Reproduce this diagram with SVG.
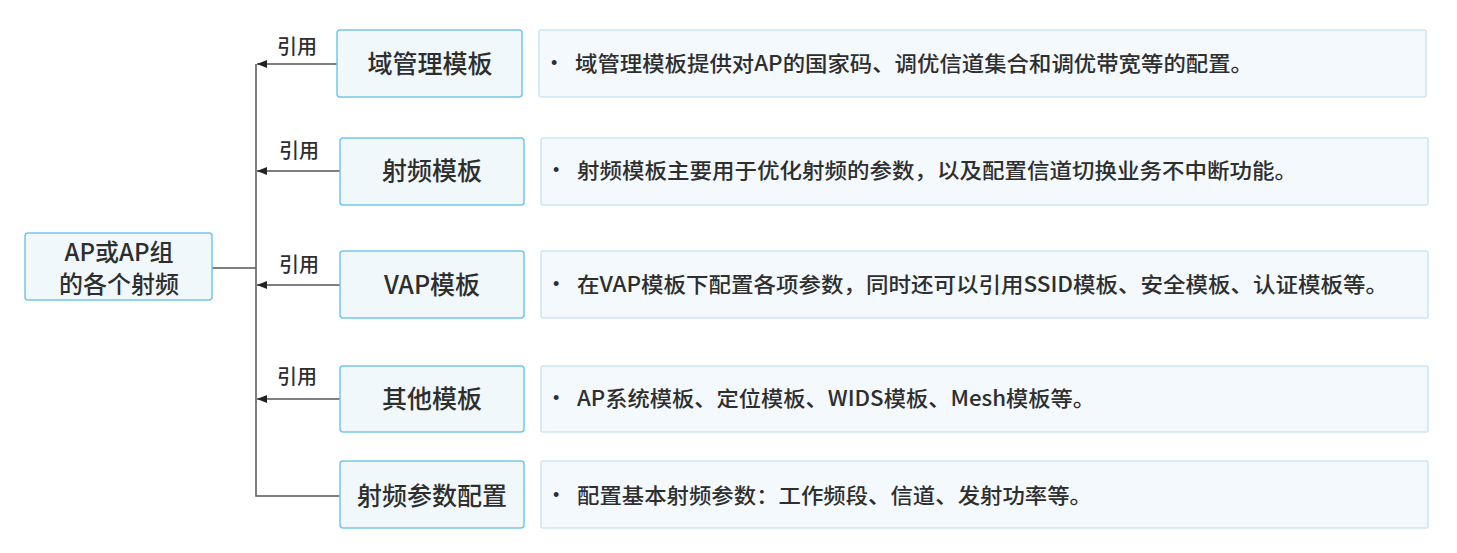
<svg xmlns="http://www.w3.org/2000/svg" width="1457" height="553" viewBox="0 0 1457 553">
<style>
text{font-family:"Noto Sans CJK SC","Noto Sans",sans-serif;fill:#2e2e2e;dominant-baseline:central}
.node{fill:#f1f8fc;stroke:#74c6ea;stroke-width:1.5}
.desc{fill:#f3f9fc;stroke:#cde6f3;stroke-width:1.5}
.nt{font-size:25px;text-anchor:middle;font-weight:500}
.rt{font-size:24px;text-anchor:middle;font-weight:500}
.dt{font-size:21px;font-weight:500}
.bul{font-family:"Liberation Sans",sans-serif;font-size:18px}
.lbl{font-size:20px;text-anchor:middle;font-weight:500}
.ln{fill:none;stroke:#555;stroke-width:1.5}
</style>
<defs>
<marker id="ah" markerWidth="11" markerHeight="10" refX="10" refY="5" orient="auto" markerUnits="userSpaceOnUse">
<path d="M0,1 L10,5 L0,9 Z" fill="#222"/>
</marker>
</defs>
<g id="connectors">
<path class="ln" d="M212,268 H256"/>
<path class="ln" d="M256,64 V496 H340"/>
<path class="ln" d="M337,64 H257" marker-end="url(#ah)"/>
<path class="ln" d="M340,171 H257" marker-end="url(#ah)"/>
<path class="ln" d="M340,285 H257" marker-end="url(#ah)"/>
<path class="ln" d="M340,399 H257" marker-end="url(#ah)"/>
<text class="lbl" x="297" y="45">引用</text>
<text class="lbl" x="299" y="149">引用</text>
<text class="lbl" x="299" y="263">引用</text>
<text class="lbl" x="297" y="375">引用</text>
</g>
<g id="root">
<rect class="node" x="25" y="233" width="187" height="67" rx="3"/>
<text class="rt" x="119" y="250">AP或AP组</text>
<text class="rt" x="119" y="282">的各个射频</text>
</g>
<g id="n1">
<rect class="node" x="337" y="30" width="185" height="67" rx="3"/>
<text class="nt" x="430" y="62">域管理模板</text>
</g>
<g id="n2">
<rect class="node" x="340" y="138" width="184" height="67" rx="3"/>
<text class="nt" x="432" y="169">射频模板</text>
</g>
<g id="n3">
<rect class="node" x="340" y="251" width="184" height="67" rx="3"/>
<text class="nt" x="432" y="283">VAP模板</text>
</g>
<g id="n4">
<rect class="node" x="340" y="366" width="184" height="66" rx="3"/>
<text class="nt" x="432" y="397">其他模板</text>
</g>
<g id="n5">
<rect class="node" x="340" y="461" width="184" height="67" rx="3"/>
<text class="nt" x="432" y="494">射频参数配置</text>
</g>
<g id="d1">
<rect class="desc" x="539" y="30" width="887" height="67" rx="2"/>
<text class="bul" x="551" y="63">•</text>
<text class="dt" x="575" y="62" textLength="678" lengthAdjust="spacingAndGlyphs">域管理模板提供对AP的国家码、调优信道集合和调优带宽等的配置。</text>
</g>
<g id="d2">
<rect class="desc" x="541" y="138" width="887" height="67" rx="2"/>
<text class="bul" x="553" y="170">•</text>
<text class="dt" x="577" y="169" textLength="720" lengthAdjust="spacingAndGlyphs">射频模板主要用于优化射频的参数，以及配置信道切换业务不中断功能。</text>
</g>
<g id="d3">
<rect class="desc" x="541" y="251" width="887" height="67" rx="2"/>
<text class="bul" x="553" y="284">•</text>
<text class="dt" x="577" y="283" textLength="811" lengthAdjust="spacingAndGlyphs">在VAP模板下配置各项参数，同时还可以引用SSID模板、安全模板、认证模板等。</text>
</g>
<g id="d4">
<rect class="desc" x="541" y="366" width="887" height="66" rx="2"/>
<text class="bul" x="553" y="398">•</text>
<text class="dt" x="577" y="397" textLength="518" lengthAdjust="spacingAndGlyphs">AP系统模板、定位模板、WIDS模板、Mesh模板等。</text>
</g>
<g id="d5">
<rect class="desc" x="541" y="461" width="887" height="67" rx="2"/>
<text class="bul" x="553" y="495">•</text>
<text class="dt" x="577" y="494" textLength="515" lengthAdjust="spacingAndGlyphs">配置基本射频参数：工作频段、信道、发射功率等。</text>
</g>
</svg>
